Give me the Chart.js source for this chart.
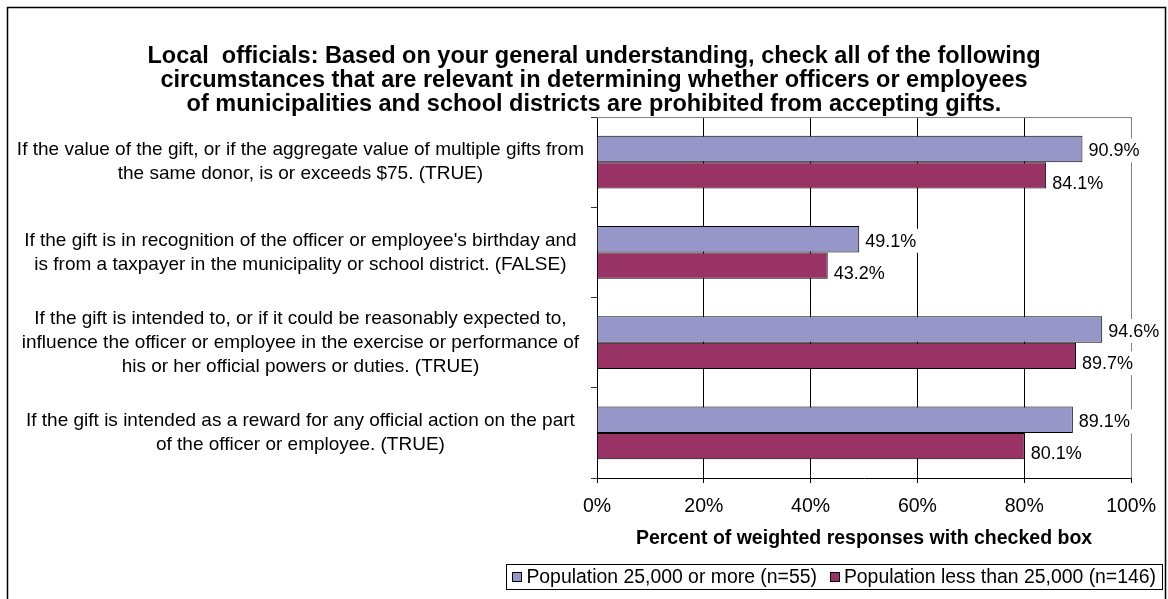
<!DOCTYPE html>
<html><head><meta charset="utf-8">
<script src="https://cdn.jsdelivr.net/npm/chart.js@4.4.1/dist/chart.umd.min.js"></script>
<style>html,body{margin:0;padding:0;background:#fff;} canvas{display:block;}</style>
</head><body>
<canvas id="c" width="1168" height="599"></canvas>
<script>
const titleLines = [
  "Local  officials: Based on your general understanding, check all of the following",
  "circumstances that are relevant in determining whether officers or employees",
  "of municipalities and school districts are prohibited from accepting gifts."
];
const categories = [
  ["If the value of the gift, or if the aggregate value of multiple gifts from", "the same donor, is or exceeds $75. (TRUE)"],
  ["If the gift is in recognition of the officer or employee's birthday and", "is from a taxpayer in the municipality or school district. (FALSE)"],
  ["If the gift is intended to, or if it could be reasonably expected to,", "influence the officer or employee in the exercise or performance of", "his or her official powers or duties. (TRUE)"],
  ["If the gift is intended as a reward for any official action on the part", "of the officer or employee. (TRUE)"]
];
const seriesNames = ["Population 25,000 or more (n=55)", "Population less than 25,000 (n=146)"];
const seriesLarge = [90.9, 49.1, 94.6, 89.1];
const seriesSmall = [84.1, 43.2, 89.7, 80.1];
const xTickValues = [0, 20, 40, 60, 80, 100];
const xTickLabels = ["0%", "20%", "40%", "60%", "80%", "100%"];
const xAxisTitle = "Percent of weighted responses with checked box";
const seriesColors = ["#9696C8", "#993366"];

const FONT = "'Liberation Sans', Arial, sans-serif";
const LABEL_FS = 18;
const labelDy = [1.5, 7.5];

const labelPlugin = {
  id: 'valueLabels',
  beforeDatasetsDraw(chart) {
    const ctx = chart.ctx;
    ctx.save();
    ctx.font = LABEL_FS + "px " + FONT;
    chart.data.datasets.forEach((ds, di) => {
      const meta = chart.getDatasetMeta(di);
      meta.data.forEach((el, i) => {
        const txt = ds.data[i].toFixed(1) + "%";
        const w = ctx.measureText(txt).width;
        ctx.fillStyle = "#fff";
        ctx.fillRect(el.x + 2, el.y + labelDy[di] - 12, w + 10, 24);
      });
    });
    ctx.restore();
  },
  afterDatasetsDraw(chart) {
    const ctx = chart.ctx;
    ctx.save();
    ctx.font = LABEL_FS + "px " + FONT;
    ctx.fillStyle = "#000";
    ctx.textAlign = "left";
    ctx.textBaseline = "middle";
    chart.data.datasets.forEach((ds, di) => {
      const meta = chart.getDatasetMeta(di);
      meta.data.forEach((el, i) => {
        ctx.fillText(ds.data[i].toFixed(1) + "%", el.x + 6, el.y + labelDy[di] + 1);
      });
    });
    ctx.restore();
  },
  afterDraw(chart) {
    const ctx = chart.ctx;
    const a = chart.chartArea;
    ctx.save();
    // chart title
    ctx.fillStyle = "#000";
    ctx.font = "bold 23.5px " + FONT;
    ctx.textAlign = "center";
    ctx.textBaseline = "middle";
    titleLines.forEach((t, i) => ctx.fillText(t, 594, 57 + i * 24));
    // plot area top border
    ctx.strokeStyle = "#808080";
    ctx.lineWidth = 1;
    ctx.beginPath();
    ctx.moveTo(a.left, Math.round(a.top) + 0.5);
    ctx.lineTo(a.right, Math.round(a.top) + 0.5);
    ctx.stroke();
    // outer chart border
    ctx.strokeStyle = "#000";
    ctx.lineWidth = 1.5;
    ctx.strokeRect(7.5, 7.5, 1158, 620);
    // legend
    ctx.font = "19.4px " + FONT;
    const box = 10, gapAfterBox = 4, itemGap = 13, pad = 6;
    const widths = seriesNames.map(t => ctx.measureText(t).width);
    const total = pad + box + gapAfterBox + widths[0] + itemGap + box + gapAfterBox + widths[1] + pad;
    const right = 1162, top = 564, h = 25;
    const left = right - total;
    ctx.lineWidth = 1;
    ctx.strokeStyle = "#000";
    ctx.strokeRect(Math.round(left) + 0.5, top + 0.5, Math.round(total), h);
    let x = left + pad;
    const cy = top + h / 2 + 0.5;
    ctx.textBaseline = "middle";
    ctx.textAlign = "left";
    seriesNames.forEach((t, i) => {
      ctx.fillStyle = seriesColors[i];
      ctx.fillRect(Math.round(x) + 0.5, Math.round(cy - box / 2) + 0.5, box - 1, box - 1);
      ctx.strokeStyle = "#000";
      ctx.strokeRect(Math.round(x) + 0.5, Math.round(cy - box / 2) + 0.5, box - 1, box - 1);
      x += box + gapAfterBox;
      ctx.fillStyle = "#000";
      ctx.fillText(t, x, cy + 1);
      x += widths[i] + itemGap;
    });
    ctx.restore();
  }
};

new Chart(document.getElementById('c'), {
  type: 'bar',
  data: {
    labels: categories,
    datasets: [
      { label: seriesNames[0], data: seriesLarge, backgroundColor: seriesColors[0], borderColor: "#000", borderWidth: 1, categoryPercentage: 0.583, barPercentage: 1 },
      { label: seriesNames[1], data: seriesSmall, backgroundColor: seriesColors[1], borderColor: "#000", borderWidth: 1, categoryPercentage: 0.583, barPercentage: 1 }
    ]
  },
  options: {
    indexAxis: 'y',
    responsive: false,
    animation: false,
    devicePixelRatio: 1,
    layout: { padding: { left: 0, right: 35, top: 117, bottom: 0 } },
    plugins: {
      legend: { display: false },
      tooltip: { enabled: false },
      title: { display: false }
    },
    scales: {
      x: {
        type: 'linear',
        min: 0, max: 100,
        afterBuildTicks(scale) { scale.ticks = xTickValues.map(v => ({ value: v })); },
        afterFit(scale) { scale.height = 121; },
        grid: {
          color: (c) => (c.tick && c.tick.value === 100) ? "#808080" : "#000",
          tickColor: "#000",
          tickLength: 5,
          lineWidth: 1
        },
        border: { color: "#000", width: 1 },
        ticks: {
          color: "#000",
          font: { family: FONT, size: 19.5 },
          padding: 12,
          maxRotation: 0,
          callback: (v) => xTickLabels[xTickValues.indexOf(v)]
        },
        title: {
          display: true,
          text: xAxisTitle,
          color: "#000",
          font: { family: FONT, size: 19.5, weight: 'bold' },
          padding: { top: 0, bottom: 48.5 }
        }
      },
      y: {
        type: 'category',
        afterFit(scale) { scale.width = 597; },
        grid: {
          offset: true,
          drawOnChartArea: false,
          drawTicks: true,
          tickLength: 6,
          tickColor: "#333"
        },
        border: { color: "#000", width: 1 },
        ticks: {
          color: "#000",
          crossAlign: 'center',
          padding: 7,
          font: { family: FONT, size: 19, lineHeight: 24 / 19 }
        }
      }
    }
  },
  plugins: [labelPlugin]
});
</script>
</body></html>
